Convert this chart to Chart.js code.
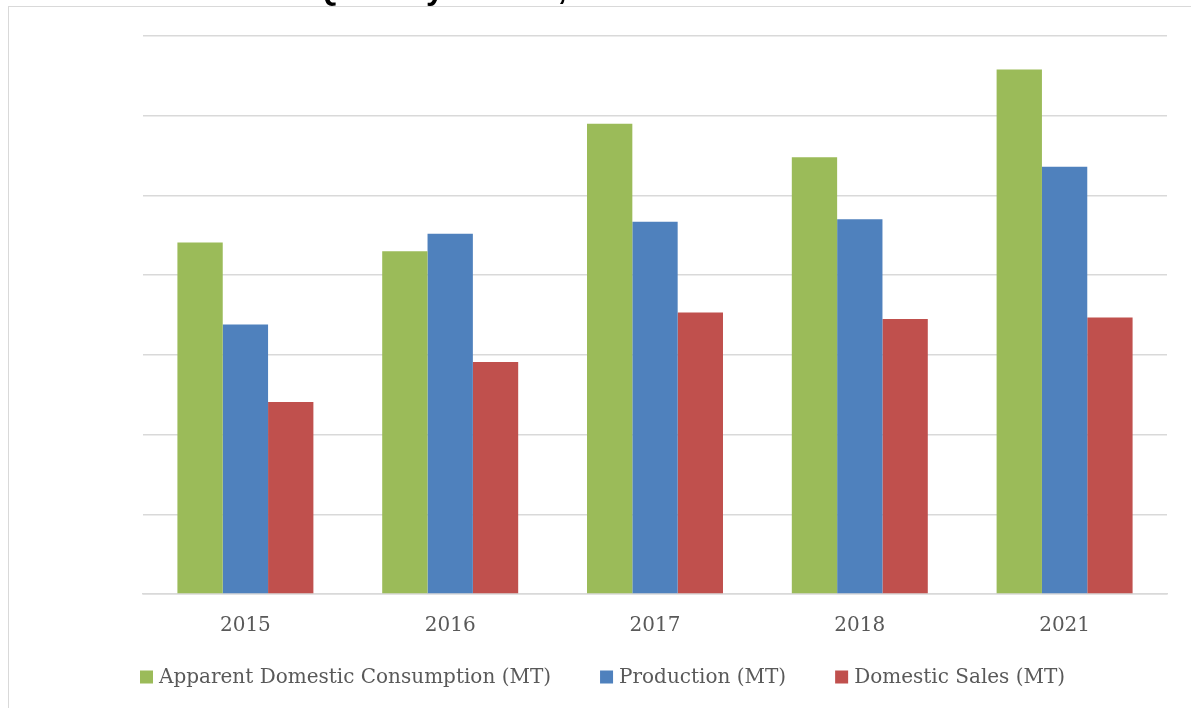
<!DOCTYPE html>
<html>
<head>
<meta charset="utf-8">
<script src="https://cdn.jsdelivr.net/npm/chart.js@4.4.1/dist/chart.umd.min.js"></script>
<style>
  html, body { margin: 0; padding: 0; background: #ffffff; overflow: hidden; }
  #frame {
    position: absolute; left: 8px; top: 6px; width: 1200px; height: 720px;
    border-left: 1px solid #d9d9d9; border-top: 1px solid #d9d9d9;
  }
  #wrap { position: absolute; left: 0; top: 0; width: 1191px; height: 708px; }
</style>
</head>
<body>
<div id="frame"></div>
<div id="wrap"><canvas id="c" width="1191" height="708"></canvas></div>
<script>
// Years shown on the category axis
const years = ['2015', '2016', '2017', '2018', '2021'];

// Series values (one gridline step = 1 unit)
const consumption = [4.41, 4.30, 5.90, 5.48, 6.58];
const production  = [3.38, 4.52, 4.67, 4.70, 5.36];
const sales       = [2.41, 2.91, 3.53, 3.45, 3.47];

// Series names for the legend
const seriesNames = [
  'Apparent Domestic Consumption (MT)',
  'Production (MT)',
  'Domestic Sales (MT)'
];

const chartTitle = 'Quantity to Sale, 2015 to 2021';

const serifFamily = '"DejaVu Serif", "Liberation Serif", serif';
const textFont = { family: serifFamily, size: 20 };

// Title sitting on the very top edge of the page
const topTitle = {
  id: 'topTitle',
  afterDraw(chart) {
    const ctx = chart.ctx;
    ctx.save();
    ctx.font = 'bold 32px "Liberation Sans", Arial, sans-serif';
    ctx.fillStyle = '#000000';
    ctx.textAlign = 'center';
    ctx.textBaseline = 'alphabetic';
    ctx.fillText(chartTitle, 540, -1);
    ctx.restore();
  }
};

// Legend row under the axis labels: square swatch, then series name
const bottomLegend = {
  id: 'bottomLegend',
  afterDraw(chart) {
    const ctx = chart.ctx;
    const box = 13, gapText = 6, gapItem = 49, yMid = 677;
    let x = 140;
    ctx.save();
    ctx.font = `${textFont.size}px ${serifFamily}`;
    ctx.textBaseline = 'middle';
    ctx.textAlign = 'left';
    chart.data.datasets.forEach(ds => {
      ctx.fillStyle = ds.backgroundColor;
      ctx.fillRect(x, yMid - box / 2, box, box);
      x += box + gapText;
      ctx.fillStyle = '#595959';
      ctx.fillText(ds.label, x, yMid + 1);
      x += ctx.measureText(ds.label).width + gapItem;
    });
    ctx.restore();
  }
};

new Chart(document.getElementById('c'), {
  type: 'bar',
  data: {
    labels: years,
    datasets: [
      { label: seriesNames[0], data: consumption, backgroundColor: '#9BBB59' },
      { label: seriesNames[1], data: production,  backgroundColor: '#4F81BD' },
      { label: seriesNames[2], data: sales,       backgroundColor: '#C0504D' }
    ]
  },
  options: {
    responsive: false,
    animation: false,
    devicePixelRatio: 1,
    layout: { padding: { left: 143, right: 24, top: 36, bottom: 58 } },
    datasets: { bar: { barPercentage: 1.0, categoryPercentage: 0.664 } },
    scales: {
      x: {
        grid: { display: false },
        border: { display: true, color: '#d9d9d9', width: 1.5 },
        ticks: { color: '#595959', font: textFont, padding: 12 }
      },
      y: {
        min: 0, max: 7,
        ticks: { display: false, stepSize: 1 },
        border: { display: false },
        grid: { color: '#d9d9d9', lineWidth: 1.5, drawTicks: false }
      }
    },
    plugins: {
      legend: { display: false },
      tooltip: { enabled: false },
      title: { display: false }
    }
  },
  plugins: [topTitle, bottomLegend]
});
</script>
</body>
</html>
